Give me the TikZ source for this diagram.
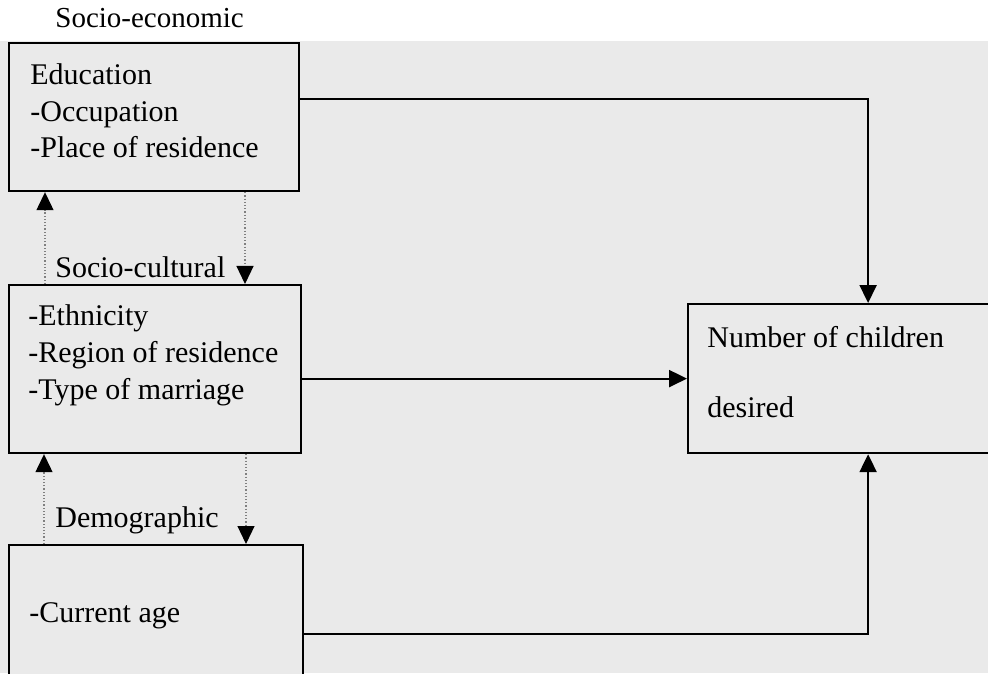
\documentclass[tikz,border=0pt]{standalone}
\usepackage{fontspec}
\setmainfont{Liberation Serif}
\usetikzlibrary{arrows.meta}
\definecolor{paper}{HTML}{EAEAEA}

\begin{document}
\begin{tikzpicture}[x=0.5pt, y=-0.5pt,
  box/.style={draw, line width=1.1pt, fill=paper, anchor=north west, inner sep=0pt},
  txt/.style={anchor=base west, align=left, inner sep=0pt, font=\fontsize{15pt}{18.3pt}\selectfont},
  link/.style={line width=1.1pt, -{Triangle[length=9pt, width=8.5pt]}},
  dotlink/.style={gray, densely dotted, line width=0.6pt, -{Triangle[length=9pt, width=8.5pt, color=black]}}]
% Page
\useasboundingbox (0,0) rectangle (988,673);
\clip (0,0) rectangle (988,673);
\fill[paper] (0,41) rectangle (988,673);

% Boxes
\node[box, minimum width=145pt, minimum height=74pt] (econ) at (8,42) {};
\node[box, minimum width=146pt, minimum height=84pt] (cult) at (8,284) {};
\node[box, minimum width=147pt, minimum height=80pt] (demo) at (8,544) {};
\node[box, minimum width=180pt, minimum height=74.5pt] (want) at (687,303) {};

% Texts (base = last line)
\node[txt, font=\fontsize{14.5pt}{17pt}\selectfont] (econlbl) at (55,28) {Socio-economic};
\node[txt] (econtxt) at (30,158) {Education\\-Occupation\\-Place of residence};
\node[txt] (cultlbl) at (55,278) {Socio-cultural};
\node[txt] (culttxt) at (28,399) {-Ethnicity\\-Region of residence\\-Type of marriage};
\node[txt] (demolbl) at (55,527) {Demographic};
\node[txt] (demotxt) at (29,622) {-Current age};
\node[txt] (wanttxt) at (707,417) {Number of children\\[16.7pt]desired};

% Links to number of children
\draw[link] (econ.north east) ++(0,57) -| (want.north);
\draw[link] (cult.east |- want.west) -- (want.west);
\draw[link] (demo.north east) ++(0,90) -| (want.south);

% Dotted links between the boxes
\draw[dotlink] ([xshift=18.5pt]cult.north west) -- ([xshift=18.5pt]econ.south west);
\draw[dotlink] ([xshift=118.5pt]econ.south west) -- ([xshift=118.5pt]cult.north west);
\draw[dotlink] ([xshift=18pt]demo.north west) -- ([xshift=18pt]cult.south west);
\draw[dotlink] ([xshift=119pt]cult.south west) -- ([xshift=119pt]demo.north west);
\end{tikzpicture}
\end{document}
